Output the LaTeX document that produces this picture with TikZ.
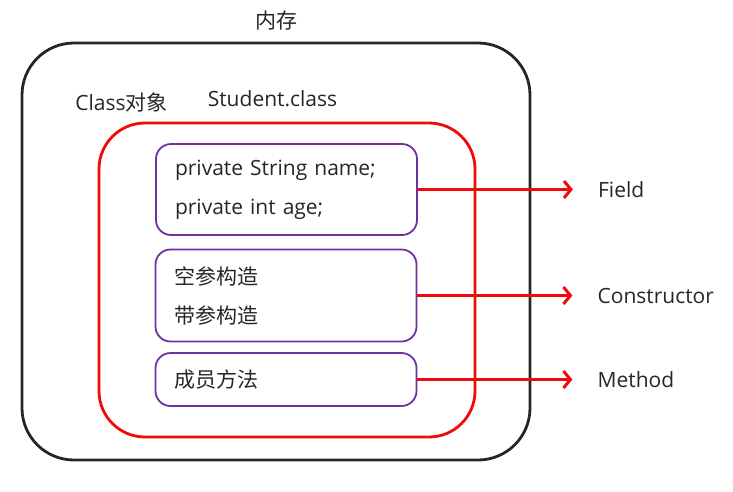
\documentclass[tikz,border=0pt]{standalone}
\usepackage{fontspec}
\setmainfont{Open Sans}
\newfontfamily\cjk{Noto Sans CJK SC}
\usepackage{xcolor}
\usepackage{tikz}
\usetikzlibrary{positioning,arrows.meta}
\definecolor{memgray}{RGB}{38,38,38}
\definecolor{clsred}{RGB}{240,10,10}
\definecolor{boxpurple}{RGB}{112,48,160}
\tikzstyle{membox} = [rectangle, draw=memgray, line width=2.8pt, rounded corners=52pt, minimum width=508pt, minimum height=417pt]
\tikzstyle{clsbox} = [rectangle, draw=clsred, line width=2.8pt, rounded corners=46pt, minimum width=376pt, minimum height=314pt]
\tikzstyle{member} = [rectangle, draw=boxpurple, line width=1.8pt, rounded corners=15pt, minimum width=261pt, text width=223pt, inner xsep=19pt, align=left, text=memgray, font=\fontsize{21}{39}\selectfont]
\tikzstyle{lbl} = [inner sep=0pt, text=memgray, font=\fontsize{21}{24}\selectfont]
\tikzstyle{link} = [draw=clsred, line width=3pt, -{Straight Barb[length=7pt,width=17pt]}, shorten >=25pt]

\begin{document}
\begin{tikzpicture}[x=1pt,y=-1pt]
    \useasboundingbox (0,0) rectangle (733,491);
    \node[membox] (mem) at (276,251.5) {};
    \node[lbl] (memlbl) at (276,21) {\cjk 内存};
    \node[lbl] (clslbl) at (121.5,102) {Class{\cjk 对象}};
    \node[lbl] (stulbl) at (272.5,99) {Student.class};
    \node[clsbox] (cls) at (287,280) {};
    \node[member, minimum height=91pt] (fields) at (286.5,189.5) {private String name;\\private int age;};
    \node[member, minimum height=92pt] (ctors) at (286,295.5) {\cjk 空参构造\\带参构造};
    \node[member, minimum height=53pt] (methods) at (286,379.5) {\cjk 成员方法};
    \node[lbl, right=180pt of fields] (field) {Field};
    \node[lbl, right=180pt of ctors] (ctor) {Constructor};
    \node[lbl, right=180pt of methods] (method) {Method};
    \draw[link] (fields) -- (field);
    \draw[link] (ctors) -- (ctor);
    \draw[link] (methods) -- (method);
\end{tikzpicture}
\end{document}
